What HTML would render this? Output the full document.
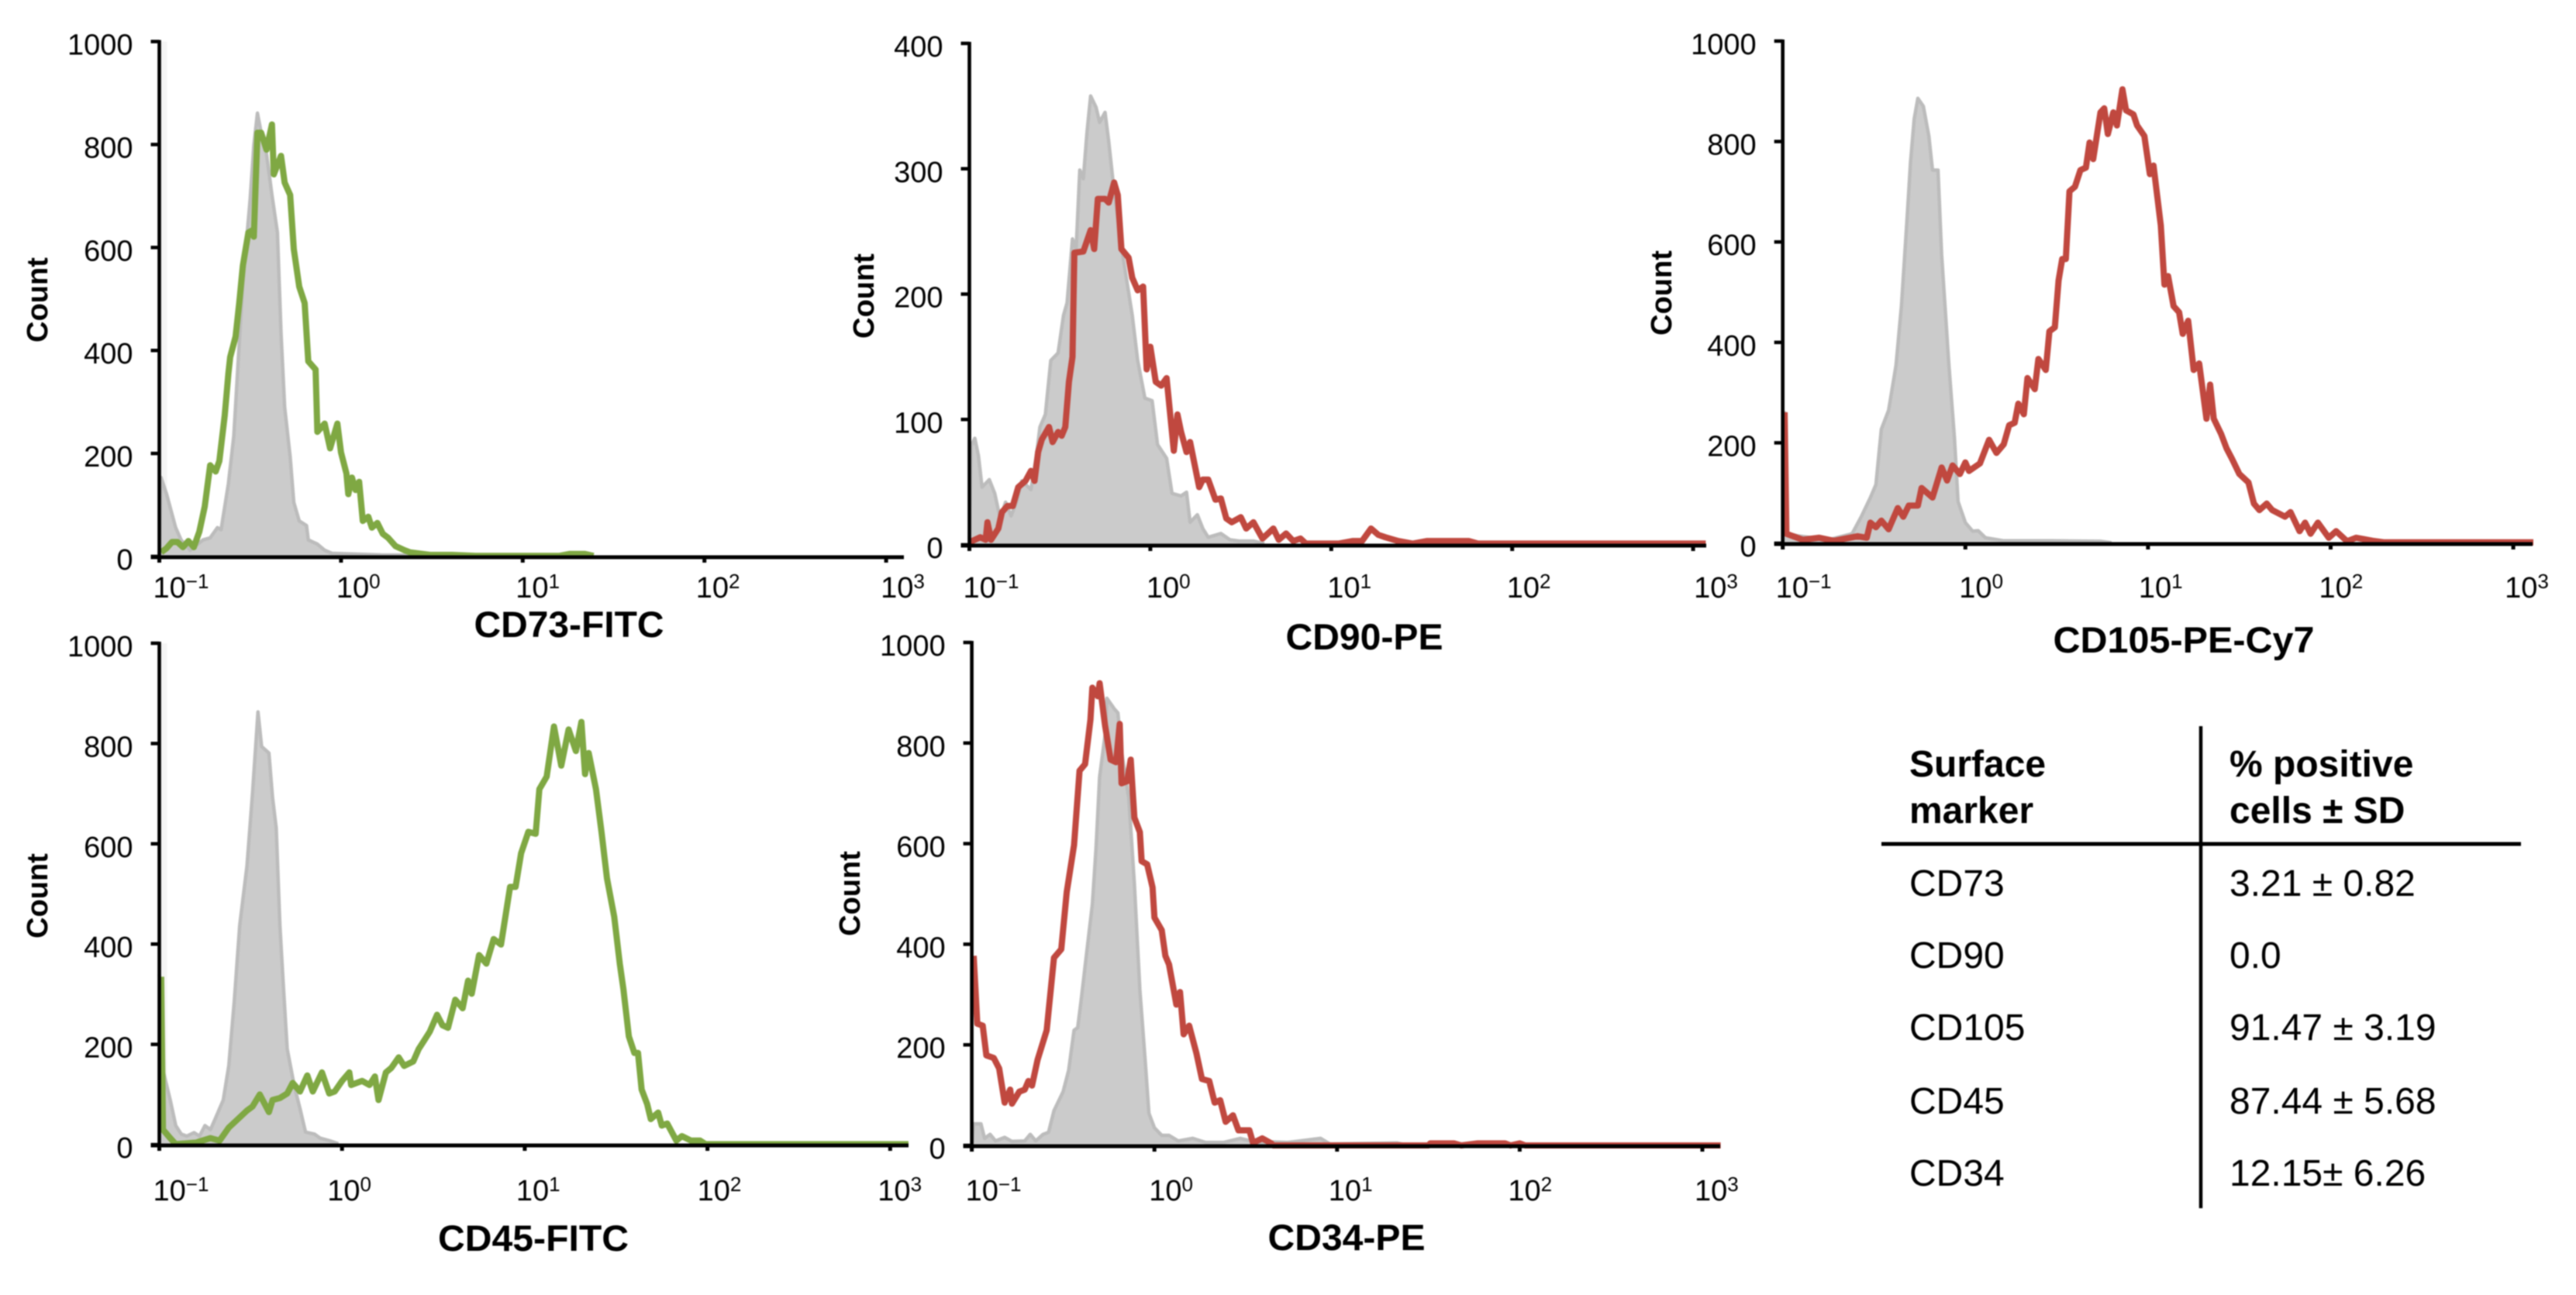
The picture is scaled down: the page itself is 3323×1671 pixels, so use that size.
<!DOCTYPE html>
<html lang="en">
<head>
<meta charset="utf-8">
<title>Flow cytometry surface markers</title>
<style>
html,body{margin:0;padding:0;background:#fff;width:3323px;height:1671px;overflow:hidden}
svg{display:block;filter:blur(0.7px)}
text{font-family:"Liberation Sans",Arial,sans-serif;fill:#000}
.tbl{font-size:48px}
.b{font-weight:bold}
</style>
</head>
<body>
<svg id="figure" xmlns="http://www.w3.org/2000/svg" width="3323" height="1671" viewBox="0 0 3323 1671">
<rect width="3323" height="1671" fill="#ffffff"/>
<g id="charts"></g>
<g>
<line x1="2839" y1="937" x2="2839" y2="1559" stroke="#000" stroke-width="4.5"/>
<line x1="2427" y1="1089" x2="3252" y2="1089" stroke="#000" stroke-width="5"/>
<text class="tbl b" x="2463" y="1002">Surface</text>
<text class="tbl b" x="2463" y="1062">marker</text>
<text class="tbl b" x="2876" y="1002">% positive</text>
<text class="tbl b" x="2876" y="1062">cells ± SD</text>
<text class="tbl" x="2463" y="1156">CD73</text>
<text class="tbl" x="2876" y="1156">3.21 ± 0.82</text>
<text class="tbl" x="2463" y="1249">CD90</text>
<text class="tbl" x="2876" y="1249">0.0</text>
<text class="tbl" x="2463" y="1342">CD105</text>
<text class="tbl" x="2876" y="1342">91.47 ± 3.19</text>
<text class="tbl" x="2463" y="1437">CD45</text>
<text class="tbl" x="2876" y="1437">87.44 ± 5.68</text>
<text class="tbl" x="2463" y="1530">CD34</text>
<text class="tbl" x="2876" y="1530">12.15± 6.26</text>
</g>
</svg>
<script>
const xTickExponents = [-1, 0, 1, 2, 3];
const xTickLabels = ["\u22121", "0", "1", "2", "3"];
const yTicks1000 = [0, 200, 400, 600, 800, 1000];
const yTicks400 = [0, 100, 200, 300, 400];

const cd73ControlExp = [-1,-0.99,-0.96,-0.91,-0.88,-0.83,-0.76,-0.72,-0.68,-0.66,-0.62,-0.59,-0.57,-0.54,-0.50,-0.48,-0.46,-0.43,-0.41,-0.38,-0.35,-0.33,-0.31,-0.28,-0.26,-0.23,-0.19,-0.18,-0.13,-0.09,-0.05,0.22,1.39];
const cd73ControlCounts = [0,153,121,56,32,12,32,36,56,52,141,234,355,532,694,798,861,806,782,702,629,435,290,194,105,69,60,32,24,12,6,3,1];
const cd73StainedExp = [-0.99,-0.96,-0.93,-0.90,-0.87,-0.84,-0.81,-0.78,-0.75,-0.72,-0.69,-0.67,-0.64,-0.62,-0.61,-0.58,-0.56,-0.54,-0.51,-0.49,-0.48,-0.46,-0.44,-0.41,-0.38,-0.37,-0.33,-0.31,-0.28,-0.26,-0.23,-0.20,-0.18,-0.14,-0.13,-0.09,-0.06,-0.02,0,0.03,0.04,0.06,0.08,0.10,0.12,0.15,0.17,0.20,0.23,0.26,0.30,0.35,0.38,0.49,0.61,0.74,1.20,1.26,1.34,1.39];
const cd73StainedCounts = [8,16,28,28,18,30,18,48,97,177,165,185,274,355,387,427,492,565,629,633,621,823,823,790,839,742,778,726,702,597,524,492,379,363,242,258,210,258,202,161,121,153,129,145,69,77,56,65,44,36,20,12,8,3,3,1,1,5,5,1];

const cd90ControlExp = [-1,-0.99,-0.97,-0.95,-0.93,-0.89,-0.86,-0.83,-0.80,-0.77,-0.74,-0.71,-0.66,-0.63,-0.61,-0.58,-0.55,-0.51,-0.48,-0.46,-0.43,-0.41,-0.39,-0.37,-0.35,-0.33,-0.30,-0.28,-0.25,-0.23,-0.20,-0.15,-0.10,-0.07,-0.03,0.01,0.04,0.09,0.12,0.17,0.20,0.22,0.26,0.29,0.32,0.39,0.44,0.49,0.57,0.63];
const cd90ControlCounts = [4,79,85,71,46,52,41,21,34,23,34,51,44,71,94,104,147,153,183,193,244,236,299,292,329,358,349,337,345,322,282,229,183,147,117,115,80,69,41,39,42,18,24,13,6,9,4,3,3,1];
const cd90StainedExp = [-1,-0.94,-0.91,-0.90,-0.88,-0.84,-0.82,-0.79,-0.76,-0.73,-0.69,-0.66,-0.64,-0.62,-0.60,-0.56,-0.54,-0.51,-0.49,-0.47,-0.45,-0.43,-0.42,-0.37,-0.33,-0.31,-0.29,-0.25,-0.23,-0.20,-0.18,-0.16,-0.12,-0.10,-0.07,-0.04,-0.02,0,0.03,0.06,0.09,0.13,0.15,0.17,0.20,0.22,0.27,0.29,0.32,0.36,0.39,0.42,0.45,0.50,0.53,0.57,0.62,0.68,0.71,0.75,0.79,0.83,0.86,1.04,1.12,1.17,1.22,1.26,1.30,1.37,1.45,1.53,1.62,1.67,1.76,1.81,3.07];
const cd90StainedCounts = [2,6,4,18,4,13,26,31,31,46,51,59,51,74,84,94,82,90,87,94,130,150,233,234,251,236,276,276,273,289,279,236,229,213,203,206,140,158,130,127,133,75,104,90,74,82,46,52,52,36,37,21,18,22,13,18,5,13,4,9,3,5,1,1,3,3,13,8,6,3,1,3,3,3,3,1,1];

const cd105ControlExp = [-1,-0.99,-0.98,-0.92,-0.75,-0.62,-0.57,-0.52,-0.49,-0.46,-0.42,-0.38,-0.35,-0.32,-0.30,-0.28,-0.26,-0.23,-0.20,-0.18,-0.15,-0.13,-0.09,-0.06,-0.04,0,0.04,0.07,0.11,0.21,0.47,0.74,0.80];
const cd105ControlCounts = [0,260,20,15,7,19,53,91,117,227,265,354,472,642,760,845,886,870,811,743,743,574,354,210,83,41,24,25,11,5,5,4,1];
const cd105StainedExp = [-0.99,-0.98,-0.89,-0.80,-0.72,-0.59,-0.54,-0.52,-0.49,-0.46,-0.42,-0.37,-0.34,-0.31,-0.26,-0.24,-0.18,-0.13,-0.10,-0.07,-0.03,0,0.02,0.08,0.13,0.17,0.21,0.24,0.27,0.29,0.32,0.34,0.38,0.40,0.44,0.46,0.49,0.51,0.53,0.55,0.57,0.60,0.63,0.66,0.68,0.70,0.74,0.76,0.78,0.81,0.83,0.86,0.88,0.92,0.94,0.98,1.01,1.03,1.07,1.09,1.11,1.14,1.17,1.19,1.22,1.25,1.28,1.32,1.34,1.36,1.40,1.43,1.46,1.50,1.55,1.58,1.61,1.65,1.68,1.75,1.78,1.83,1.86,1.89,1.93,1.99,2.03,2.09,2.14,2.23,2.29,3.11];
const cd105StainedCounts = [261,19,7,11,5,14,11,41,32,45,28,70,53,75,75,110,91,151,125,155,138,161,144,159,206,180,197,235,240,278,257,329,307,367,345,422,430,523,566,566,701,710,743,748,798,765,858,866,815,858,832,904,862,854,832,811,735,752,633,515,532,472,460,417,443,345,358,248,316,248,218,189,168,138,121,79,66,79,66,53,62,24,41,19,41,11,24,4,11,5,2,2];

const cd45ControlExp = [-1,-0.98,-0.94,-0.91,-0.88,-0.85,-0.81,-0.78,-0.75,-0.72,-0.69,-0.65,-0.62,-0.59,-0.56,-0.52,-0.49,-0.46,-0.44,-0.40,-0.38,-0.36,-0.34,-0.32,-0.30,-0.26,-0.23,-0.20,-0.15,-0.12,-0.07,-0.02];
const cd45ControlCounts = [340,149,89,38,21,17,24,17,38,30,55,89,157,284,437,556,700,863,794,781,692,632,437,310,191,115,72,25,21,13,8,2];
const cd45StainedExp = [-0.99,-0.98,-0.94,-0.91,-0.80,-0.72,-0.67,-0.62,-0.57,-0.52,-0.49,-0.45,-0.40,-0.38,-0.34,-0.30,-0.27,-0.23,-0.19,-0.16,-0.11,-0.07,-0.04,0,0.04,0.05,0.11,0.15,0.18,0.20,0.24,0.27,0.31,0.34,0.39,0.42,0.45,0.48,0.52,0.55,0.58,0.62,0.66,0.69,0.71,0.75,0.79,0.83,0.87,0.92,0.95,0.98,1.02,1.06,1.08,1.12,1.16,1.20,1.24,1.28,1.31,1.33,1.35,1.39,1.42,1.45,1.49,1.52,1.54,1.57,1.60,1.62,1.64,1.67,1.69,1.73,1.75,1.78,1.83,1.86,1.91,1.96,1.99,3.10];
const cd45StainedCounts = [335,30,13,1,4,13,8,34,51,68,76,100,65,89,93,102,123,106,138,106,144,102,106,127,144,119,127,119,136,89,144,153,174,157,166,191,208,225,259,238,233,289,272,327,301,378,361,410,399,514,514,581,624,620,709,734,834,756,828,785,843,739,781,709,624,531,454,361,310,216,183,183,110,81,51,64,38,42,8,17,8,8,1,1];

const cd34ControlExp = [-1,-0.99,-0.95,-0.93,-0.90,-0.87,-0.82,-0.78,-0.71,-0.68,-0.65,-0.61,-0.58,-0.55,-0.50,-0.47,-0.44,-0.42,-0.40,-0.37,-0.34,-0.32,-0.30,-0.27,-0.26,-0.22,-0.20,-0.18,-0.14,-0.11,-0.08,-0.05,-0.03,0,0.04,0.08,0.13,0.21,0.28,0.38,0.47,0.56,0.65,0.73,0.91,0.96,1.33,1.38];
const cd34ControlCounts = [0,43,43,14,22,9,16,8,9,22,9,22,26,69,107,149,229,234,293,386,479,589,733,817,889,868,860,783,690,521,310,166,64,35,20,20,9,14,6,6,14,6,7,6,14,3,5,1];
const cd34StainedExp = [-0.99,-0.97,-0.94,-0.92,-0.88,-0.85,-0.82,-0.79,-0.78,-0.74,-0.71,-0.69,-0.67,-0.64,-0.59,-0.57,-0.55,-0.51,-0.48,-0.44,-0.41,-0.38,-0.35,-0.34,-0.31,-0.30,-0.27,-0.24,-0.21,-0.19,-0.18,-0.15,-0.13,-0.11,-0.08,-0.07,-0.04,-0.01,0,0.04,0.06,0.08,0.12,0.14,0.16,0.19,0.23,0.26,0.30,0.33,0.36,0.39,0.43,0.46,0.52,0.54,0.59,0.64,0.65,1.50,1.51,1.64,1.68,1.77,1.92,1.95,2.00,2.03,3.10];
const cd34StainedCounts = [377,242,238,179,174,153,85,111,83,107,111,128,119,170,229,301,373,390,504,597,745,758,847,910,893,919,834,767,762,838,720,724,767,652,623,565,559,513,453,428,377,360,280,305,221,238,183,132,128,85,90,47,60,30,30,5,14,4,0,0,4,4,0,4,4,0,4,0,0];

const GREEN = "#7fa843";
const RED = "#c0483f";

const panels = [
  {id:"cd73", title:"CD73-FITC", x0:205.5, decade:234.4, xEnd:1166, y0:718, yTop:53.6, yMax:1000, yTicks:yTicks1000,
   labelDx:[-8,-6,-9,-11,-7], labelBase:771, titleX:734, titleY:822, titleW:245, countX:61, countY:387, color:GREEN, shadow:true,
   ctrlX:cd73ControlExp, ctrlY:cd73ControlCounts, lineX:cd73StainedExp, lineY:cd73StainedCounts},
  {id:"cd90", title:"CD90-PE", x0:1250.5, decade:233.4, xEnd:2201, y0:703, yTop:56, yMax:400, yTicks:yTicks400,
   labelDx:[-8,-5,-5,-7,1], labelBase:771, titleX:1760, titleY:838, titleW:203, countX:1127, countY:382, color:RED, shadow:false,
   ctrlX:cd90ControlExp, ctrlY:cd90ControlCounts, lineX:cd90StainedExp, lineY:cd90StainedCounts},
  {id:"cd105", title:"CD105-PE-Cy7", x0:2299.7, decade:235.6, xEnd:3267, y0:701, yTop:53, yMax:1000, yTicks:yTicks1000,
   labelDx:[-9,-8,-12,-15,-11], labelBase:771, titleX:2817, titleY:842, titleW:337, countX:2156, countY:378, color:RED, shadow:false,
   ctrlX:cd105ControlExp, ctrlY:cd105ControlCounts, lineX:cd105StainedExp, lineY:cd105StainedCounts},
  {id:"cd45", title:"CD45-FITC", x0:205.5, decade:235.7, xEnd:1172, y0:1477, yTop:830, yMax:1000, yTicks:yTicks1000,
   labelDx:[-8,-19,-11,-13,-16], labelBase:1549, titleX:688, titleY:1614, titleW:246, countX:61, countY:1156, color:GREEN, shadow:true,
   ctrlX:cd45ControlExp, ctrlY:cd45ControlCounts, lineX:cd45StainedExp, lineY:cd45StainedCounts},
  {id:"cd34", title:"CD34-PE", x0:1253.6, decade:235.6, xEnd:2219, y0:1478, yTop:829, yMax:1000, yTicks:yTicks1000,
   labelDx:[-8,-7,-11,-15,-10], labelBase:1549, titleX:1737, titleY:1613, titleW:203, countX:1109, countY:1153, color:RED, shadow:false,
   ctrlX:cd34ControlExp, ctrlY:cd34ControlCounts, lineX:cd34StainedExp, lineY:cd34StainedCounts}
];

const SVGNS = "http://www.w3.org/2000/svg";
const root = document.getElementById("charts");

function make(tag, attrs, parent) {
  const el = document.createElementNS(SVGNS, tag);
  for (const k in attrs) el.setAttribute(k, attrs[k]);
  parent.appendChild(el);
  return el;
}

function tracePath(xs, ys, sx, sy) {
  return xs.map((v, i) => (i ? "L" : "M") + sx(v).toFixed(1) + " " + sy(ys[i]).toFixed(1)).join(" ");
}

panels.forEach(function (p) {
  const sx = v => p.x0 + (v + 1) * p.decade;
  const sy = v => p.y0 - v * (p.y0 - p.yTop) / p.yMax;

  const g = make("g", {}, root);
  
  

  if (p.shadow) {
    const sh = make("rect", {x:p.x0, y:p.yTop, width:10, height:p.y0 - p.yTop, fill:"#f5f5f5"}, g);
    
    
  }

  const ctrl = tracePath(p.ctrlX, p.ctrlY, sx, sy);
  const fill = make("path", {d: ctrl + " L" + sx(p.ctrlX[p.ctrlX.length - 1]).toFixed(1) + " " + sy(0) + " L" + sx(p.ctrlX[0]).toFixed(1) + " " + sy(0) + " Z", fill:"#cbcbcb", stroke:"none"}, g);
  
  

  const outline = make("path", {d: ctrl, fill:"none", stroke:"#bcbcbc", "stroke-width":4.5, "stroke-linejoin":"round"}, g);
  
  

  const line = make("path", {d: tracePath(p.lineX, p.lineY, sx, sy), fill:"none", stroke:p.color, "stroke-width":8, "stroke-linejoin":"round"}, g);
  
  

  const yAxis = make("line", {x1:p.x0, x2:p.x0, y1:p.yTop - 2, y2:p.y0 + 3, stroke:"#000", "stroke-width":4.6}, g);
  
  

  const xAxis = make("line", {x1:p.x0 - 11, x2:p.xEnd, y1:p.y0 + 1, y2:p.y0 + 1, stroke:"#000", "stroke-width":5}, g);
  
  

  p.yTicks.forEach(function (t) {
    const tick = make("line", {x1:p.x0 - 11, x2:p.x0, y1:sy(t), y2:sy(t), stroke:"#000", "stroke-width":4.5}, g);
    
    
    const lab = make("text", {x:p.x0 - 34, y:sy(t) + 17, "font-size":38, "text-anchor":"end"}, g);
    
    
    lab.textContent = String(t);
  });

  xTickExponents.forEach(function (e, i) {
    const tx = sx(e);
    const tick = make("line", {x1:tx, x2:tx, y1:p.y0 + 1, y2:p.y0 + 8, stroke:"#000", "stroke-width":5}, g);
    
    
    const lab = make("text", {x:tx + p.labelDx[i], y:p.labelBase, "font-size":38}, g);
    
    
    lab.appendChild(document.createTextNode("10"));
    const sup = make("tspan", {dy:-12, "font-size":26}, lab);
    sup.textContent = xTickLabels[i];
  });

  const title = make("text", {x:p.titleX, y:p.titleY, "font-size":47, "font-weight":"bold", "text-anchor":"middle", textLength:p.titleW, lengthAdjust:"spacingAndGlyphs"}, g);
  
  
  title.textContent = p.title;

  const count = make("text", {x:0, y:0, "font-size":38, "font-weight":"bold", "text-anchor":"middle", transform:"translate(" + p.countX + " " + p.countY + ") rotate(-90)"}, g);
  
  
  count.textContent = "Count";
});
</script>
</body>
</html>
